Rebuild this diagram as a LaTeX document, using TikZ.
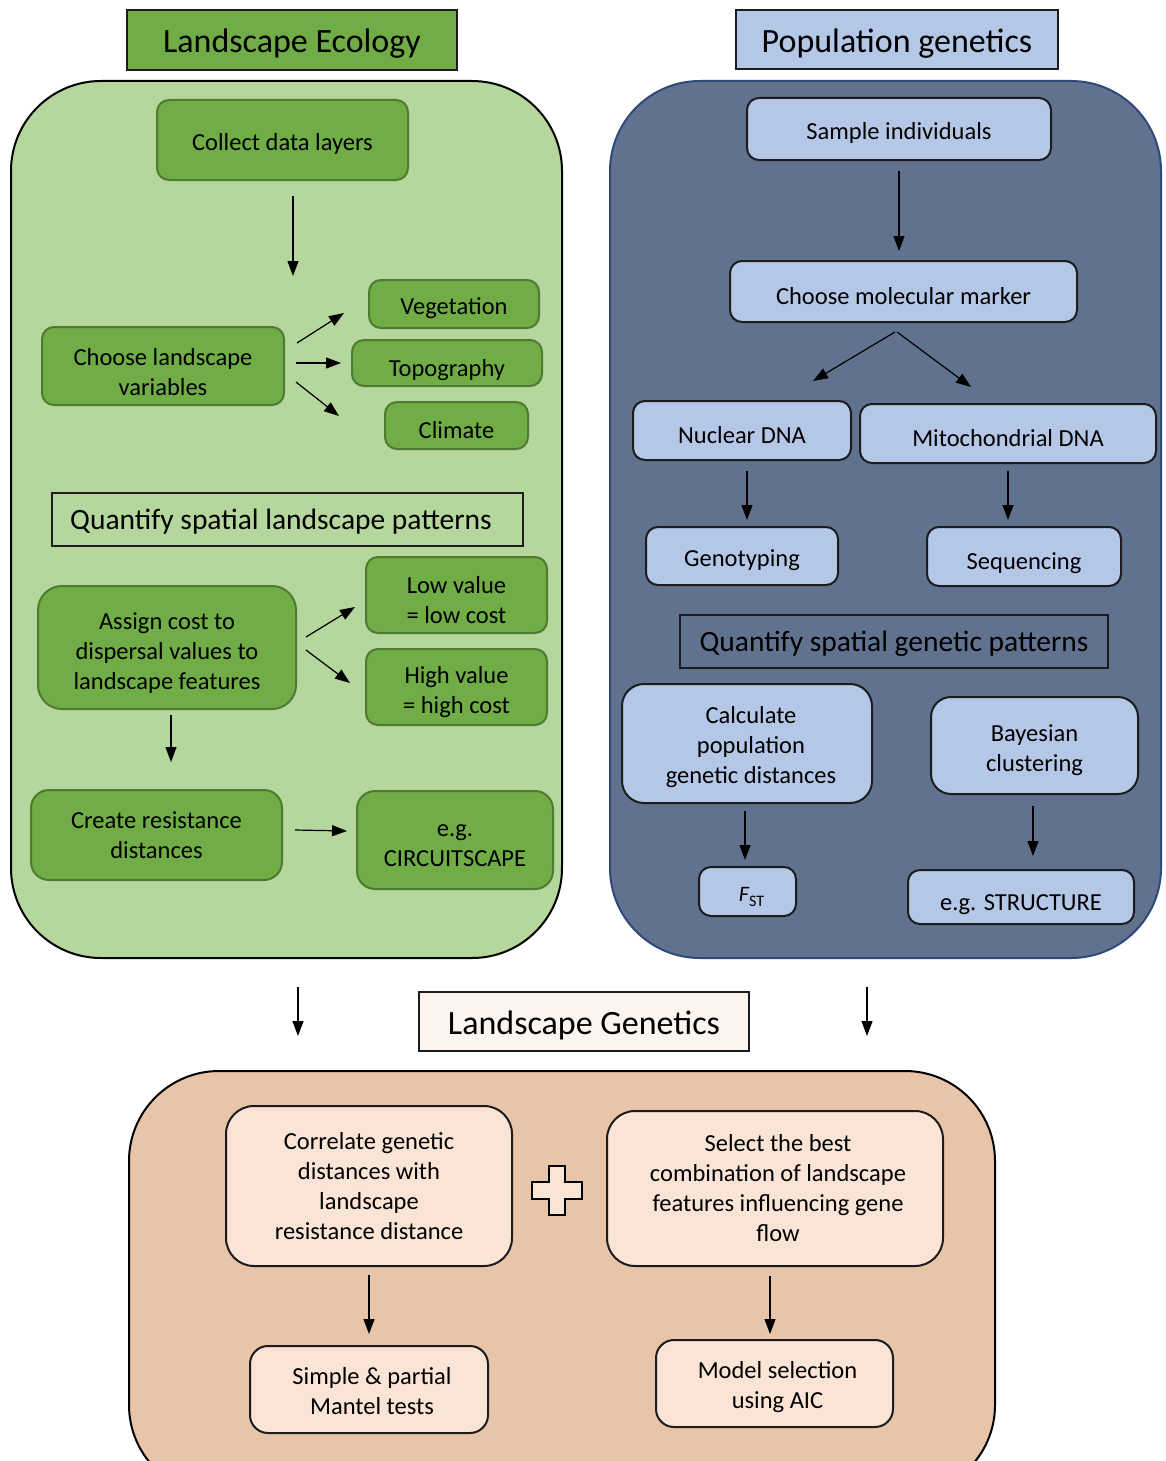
\documentclass[tikz,border=0pt]{standalone}
\usepackage{fontspec}
\setmainfont{Carlito}
\usetikzlibrary{arrows.meta,calc}
\definecolor{lgreen}{HTML}{B5D69C}
\definecolor{dgreen}{HTML}{70AD47}
\definecolor{gborder}{HTML}{4E7A32}
\definecolor{bpanel}{HTML}{61728F}
\definecolor{bpanelborder}{HTML}{2E4A7A}
\definecolor{lblue}{HTML}{B4C7E7}
\definecolor{peachpanel}{HTML}{E8C4A9}
\definecolor{peachnode}{HTML}{FAE4D5}
\definecolor{lgtitle}{HTML}{FCF4EF}
\definecolor{edge}{HTML}{1C1C1C}
\newcommand{\topstrut}[1]{\rule{0pt}{#1}}
\begin{document}
\begin{tikzpicture}[x=1pt,y=-1pt,
  every node/.style={font=\fontsize{24.5}{30}\selectfont, inner sep=0pt, align=center},
  st/.style={execute at begin node={\rule{0pt}{#1}}},
  titlebox/.style={draw=edge, line width=1.6pt, font=\fontsize{34}{40}\selectfont, st=0.92em},
  subbox/.style={draw=edge, line width=1.6pt, font=\fontsize{29.5}{34}\selectfont, st=0.85em},
  gboxbase/.style={draw=gborder, fill=dgreen, line width=2pt, rounded corners=12pt},
  gbox/.style={gboxbase, st=1.05em},
  bbox/.style={draw=edge, fill=lblue, line width=2pt, rounded corners=12pt, st=1.05em},
  pbox/.style={draw=edge, fill=peachnode, line width=2pt, rounded corners=28pt},
  panelst/.style={line width=2pt, rounded corners=90pt},
  arr/.style={line width=1.2pt, -{Triangle[length=15pt,width=11pt]}}]
\fill[white] (0,0) rectangle (1165,1461);
\clip (0,0) rectangle (1165,1461);

% titles
\node[titlebox, fill=dgreen, minimum width=330pt, minimum height=60pt] (tle) at (292,40) {Landscape Ecology};
\node[titlebox, fill=lblue, minimum width=322pt, minimum height=59pt] (tpg) at (897,39.5) {Population genetics};
\node[titlebox, fill=lgtitle, minimum width=330pt, minimum height=59pt] (tlg) at (584,1021.5) {Landscape Genetics};

% panels
\node[panelst, draw=black, fill=lgreen, minimum width=551pt, minimum height=877pt] (greenp) at (286.5,519.5) {};
\node[panelst, draw=bpanelborder, fill=bpanel, minimum width=551pt, minimum height=877pt] (bluep) at (885.5,519.5) {};
\node[panelst, draw=black, fill=peachpanel, minimum width=866pt, minimum height=424pt] (peachp) at (562,1283) {};

% landscape ecology
\node[gbox, minimum width=251pt, minimum height=80pt] (collect) at (282.5,140) {Collect data layers};
\node[gbox, minimum width=242pt, minimum height=78pt] (chooseland) at (163,366) {\topstrut{1.15em}Choose landscape\\variables};
\node[gbox, minimum width=170pt, minimum height=48pt] (veg) at (454,304) {Vegetation};
\node[gbox, st=1.3em, minimum width=190pt, minimum height=46pt] (topo) at (447,363) {Topography};
\node[gbox, minimum width=143pt, minimum height=47pt] (clim) at (456.5,425.5) {Climate};
\node[subbox, minimum width=471pt, minimum height=53pt] (qslp) at (287.5,519.5) {Quantify spatial landscape patterns\hspace*{13pt}};
\node[gbox, rounded corners=24pt, minimum width=258pt, minimum height=123pt] (assign) at (167,647.5) {\topstrut{1.1em}Assign cost to\\dispersal values to\\landscape features};
\node[gbox, minimum width=181pt, minimum height=76pt] (low) at (456.5,595) {\topstrut{1.1em}Low value\\= low cost};
\node[gbox, minimum width=181pt, minimum height=76pt] (high) at (456.5,687) {\topstrut{1.1em}High value\\= high cost};
\node[gboxbase, rounded corners=18pt, minimum width=251pt, minimum height=90pt] (create) at (156.5,835) {Create resistance\\distances};
\node[gboxbase, rounded corners=18pt, minimum width=196pt, minimum height=98pt] (circuit) at (455,840) {\topstrut{0.95em}e.g.\\CIRCUITSCAPE};

% population genetics
\node[bbox, minimum width=304pt, minimum height=62pt] (sample) at (899,129) {Sample individuals};
\node[bbox, minimum width=347pt, minimum height=61pt] (molec) at (903.5,291.5) {Choose molecular marker};
\node[bbox, minimum width=218pt, minimum height=59pt] (nuclear) at (742,430.5) {Nuclear DNA};
\node[bbox, minimum width=296pt, minimum height=59pt] (mito) at (1008,433.5) {Mitochondrial DNA};
\node[bbox, minimum width=192pt, minimum height=58pt] (geno) at (742,556) {Genotyping};
\node[bbox, st=1.2em, minimum width=194pt, minimum height=59pt] (seq) at (1024,556.5) {Sequencing};
\node[subbox, minimum width=428pt, minimum height=53pt] (qsgp) at (894,641.5) {Quantify spatial genetic patterns};
\node[bbox, rounded corners=22pt, minimum width=250pt, minimum height=119pt] (calc) at (747,743.5) {\topstrut{1.0em}\hspace*{8pt}Calculate\\\hspace*{8pt}population\\\hspace*{8pt}genetic distances};
\node[bbox, rounded corners=20pt, minimum width=207pt, minimum height=97pt] (bayes) at (1034.5,745.5) {\topstrut{1.1em}Bayesian\\clustering};
\node[bbox, minimum width=97pt, minimum height=49pt] (fst) at (747.5,891.5) {\hspace*{8pt}{\fontsize{22}{26}\selectfont\itshape F}\raisebox{-5pt}{\fontsize{16}{18}\selectfont ST}};
\node[bbox, st=1.3em, minimum width=226pt, minimum height=54pt] (struct) at (1021,897) {e.g. STRUCTURE};

% landscape genetics
\node[pbox, minimum width=286pt, minimum height=160pt] (correl) at (369,1186) {Correlate genetic\\distances with\\landscape\\resistance distance};
\node[pbox, minimum width=336pt, minimum height=155pt] (select) at (775,1188.5) {\hspace*{6pt}Select the best\\\hspace*{6pt}combination of landscape\\\hspace*{6pt}features influencing gene\\\hspace*{6pt}flow};
\node[pbox, rounded corners=18pt, minimum width=238pt, minimum height=87pt] (simple) at (369,1389.5) {\topstrut{0.85em}\hspace*{6pt}Simple \& partial\\\hspace*{6pt}Mantel tests};
\node[pbox, rounded corners=18pt, minimum width=237pt, minimum height=87pt] (model) at (774.5,1383.5) {\topstrut{0.95em}\hspace*{6pt}Model selection\\\hspace*{6pt}using AIC};

% plus sign
\draw[line width=2.4pt, fill=peachnode]
  (549,1166) -- (565,1166) -- (565,1182) -- (582,1182) -- (582,1199) -- (565,1199)
  -- (565,1215) -- (549,1215) -- (549,1199) -- (532,1199) -- (532,1182) -- (549,1182) -- cycle;

% arrows: landscape ecology
\draw[arr] ([shift={(10.5,15)}]collect.south) -- ([shift={(130,-50)}]chooseland.north);
\draw[arr] ([shift={(12,-23)}]chooseland.east) -- ([shift={(-24,9)}]veg.west);
\draw[arr] ([shift={(11,-3)}]chooseland.east) -- ([shift={(-10,0)}]topo.west);
\draw[arr] ([shift={(11,16)}]chooseland.east) -- ([shift={(-45,-9.5)}]clim.west);
\draw[arr] ([shift={(9,-10.5)}]assign.east) -- ([shift={(-10,12)}]low.west);
\draw[arr] ([shift={(9,2.5)}]assign.east) -- ([shift={(-15,-4)}]high.west);
\draw[arr] ([shift={(4,5)}]assign.south) -- ([shift={(14.5,-27)}]create.north);
\draw[arr] ([shift={(12,-5)}]create.east) -- ([shift={(-9,-9)}]circuit.west);

% arrows: population genetics
\draw[arr] ([shift={(0,10)}]sample.south) -- ([shift={(-4.5,-9)}]molec.north);
\draw[arr] ([shift={(-8.5,9)}]molec.south) -- ([shift={(71,-19)}]nuclear.north);
\draw[arr] ([shift={(-6.5,9)}]molec.south) -- ([shift={(-37,-16)}]mito.north);
\draw[arr] ([shift={(5,10)}]nuclear.south) -- ([shift={(5,-6)}]geno.north);
\draw[arr] ([shift={(0,7)}]mito.south) -- ([shift={(-16,-6)}]seq.north);
\draw[arr] ([shift={(-2,7)}]calc.south) -- ([shift={(-2.5,-6)}]fst.north);
\draw[arr] ([shift={(-1.5,11)}]bayes.south) -- ([shift={(12,-13)}]struct.north);

% arrows: into landscape genetics
\draw[arr] ([shift={(11.5,28)}]greenp.south) -- ([shift={(-264,-34)}]peachp.north);
\draw[arr] ([shift={(-18.5,28)}]bluep.south) -- ([shift={(305,-34)}]peachp.north);
\draw[arr] ([shift={(0,8)}]correl.south) -- ([shift={(0,-11)}]simple.north);
\draw[arr] ([shift={(-5,9)}]select.south) -- ([shift={(-4.5,-5)}]model.north);
\end{tikzpicture}
\end{document}
